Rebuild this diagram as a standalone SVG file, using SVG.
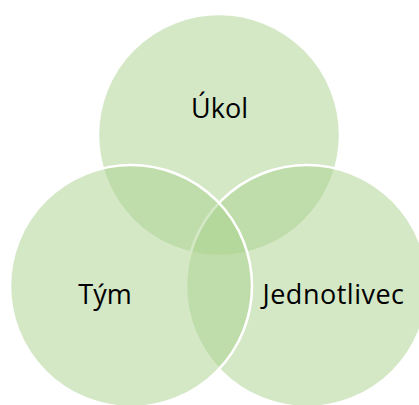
<svg xmlns="http://www.w3.org/2000/svg" width="419" height="405" viewBox="0 0 419 405">
<style>
.c{fill:rgb(169,209,142);fill-opacity:0.5;stroke:#ffffff;stroke-width:2.5}
.t{font-family:"Open Sans","Liberation Sans",Arial,sans-serif;font-size:27px;fill:#000000;text-anchor:middle}
</style>
<rect width="419" height="405" fill="#ffffff"/>
<g id="ukol"><circle class="c" cx="219" cy="135" r="121"/></g>
<g id="jednotlivec"><circle class="c" cx="307" cy="286" r="121"/></g>
<g id="tym"><circle class="c" cx="131" cy="286" r="121"/></g>
<g id="labels">
<text class="t" x="219.5" y="118">Úkol</text>
<text class="t" x="105" y="304">Tým</text>
<text class="t" x="333.5" y="304" letter-spacing="0.5">Jednotlivec</text>
</g>
</svg>
